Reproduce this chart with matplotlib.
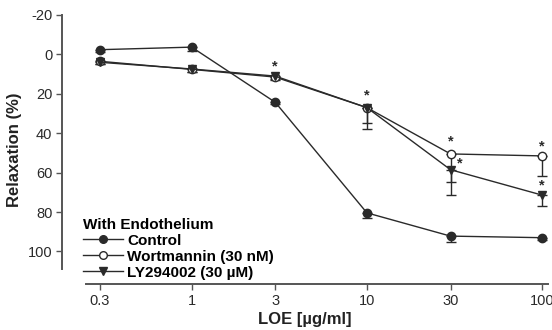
import numpy as np
import matplotlib
matplotlib.use('Agg')
import matplotlib.pyplot as plt
from matplotlib.lines import Line2D

plt.rcParams['font.family'] = ['Liberation Sans', 'DejaVu Sans']
plt.rcParams['axes.unicode_minus'] = False

# LOE concentration (ug/ml)
conc = [0.3, 1, 3, 10, 30, 100]

# relaxation (%) and downward SEM
control = [-2.4, -3.7, 24.3, 80.4, 92.2, 93.0]
control_err = [1.0, 2.0, 1.0, 2.5, 3.0, 1.0]
wortmannin = [3.5, 7.6, 11.5, 27.0, 50.5, 51.5]
wortmannin_err = [1.5, 1.5, 1.5, 8.0, 14.0, 10.0]
ly294002 = [4.0, 7.4, 11.0, 27.0, 58.5, 71.4]
ly294002_err = [1.0, 1.5, 1.5, 11.0, 13.0, 5.6]

# significance markers (x, y)
star_x = [3, 10, 30, 33.8, 100, 100]
star_y = [6, 21, 44, 55.5, 46.5, 66.5]

ink = '#2a2a2a'

fig = plt.figure(figsize=(5.52, 3.30), dpi=100)
ax = fig.add_axes([62/552, 1-284/330, (548-62)/552, (284-15)/330])

handles = []
def series(y, err, marker, face, label):
    lower = np.array(err)
    ax.errorbar(conc, y, yerr=[np.zeros(len(err)), lower], color=ink,
                marker=marker, markersize=6, markerfacecolor=face,
                markeredgecolor=ink, markeredgewidth=1.0, linewidth=1.0,
                elinewidth=1.0, capsize=3.5, capthick=1.0)
    handles.append(Line2D([], [], color=ink, marker=marker, markersize=5.5,
                          markerfacecolor=face, markeredgecolor=ink,
                          linewidth=1.0, label=label))

series(control, control_err, 'o', ink, 'Control')
series(wortmannin, wortmannin_err, 'o', 'white', 'Wortmannin (30 nM)')
series(ly294002, ly294002_err, 'v', ink, 'LY294002 (30 \u00b5M)')

for sx, sy in zip(star_x, star_y):
    ax.text(sx, sy, '*', ha='center', va='center', fontsize=10.5,
            fontweight='bold', color=ink)

ax.set_xscale('log')
ax.set_xlim(0.182, 108)
ax.set_ylim(116.5, -20)
ax.set_xticks(conc)
ax.set_xticklabels(['0.3', '1', '3', '10', '30', '100'])
ax.minorticks_off()
ax.set_yticks([-20, 0, 20, 40, 60, 80, 100])

for s in ['top', 'right']:
    ax.spines[s].set_visible(False)
ax.spines['left'].set_bounds(109, -20)
ax.spines['bottom'].set_bounds(0.249, 108)
for s in ['left', 'bottom']:
    ax.spines[s].set_color('#555555')
    ax.spines[s].set_linewidth(1.4)
ax.tick_params(axis='both', direction='out', length=4, width=1.0,
               colors='#555555', labelcolor='#2a2a2a', labelsize=10.5)
ax.tick_params(axis='x', pad=3)
ax.tick_params(axis='y', pad=3)

ax.set_ylabel('Relaxation (%)', fontsize=12, fontweight='bold', color='#222222', labelpad=4)
ax.set_xlabel('LOE [\u00b5g/ml]', fontsize=12, fontweight='bold', color='#222222', labelpad=3)

leg = ax.legend(handles=handles, loc='upper left',
                bbox_to_anchor=(83/552, 1-218/330),
                bbox_transform=fig.transFigure, frameon=False,
                title='With Endothelium', fontsize=11, handlelength=2.6,
                handletextpad=0.3, labelspacing=0.12, borderpad=0,
                borderaxespad=0)
leg.get_title().set_fontweight('bold')
leg.get_title().set_fontsize(11)
leg._legend_box.align = 'left'
for t in leg.get_texts():
    t.set_fontweight('bold')

fig.savefig('out.png', dpi=100)
